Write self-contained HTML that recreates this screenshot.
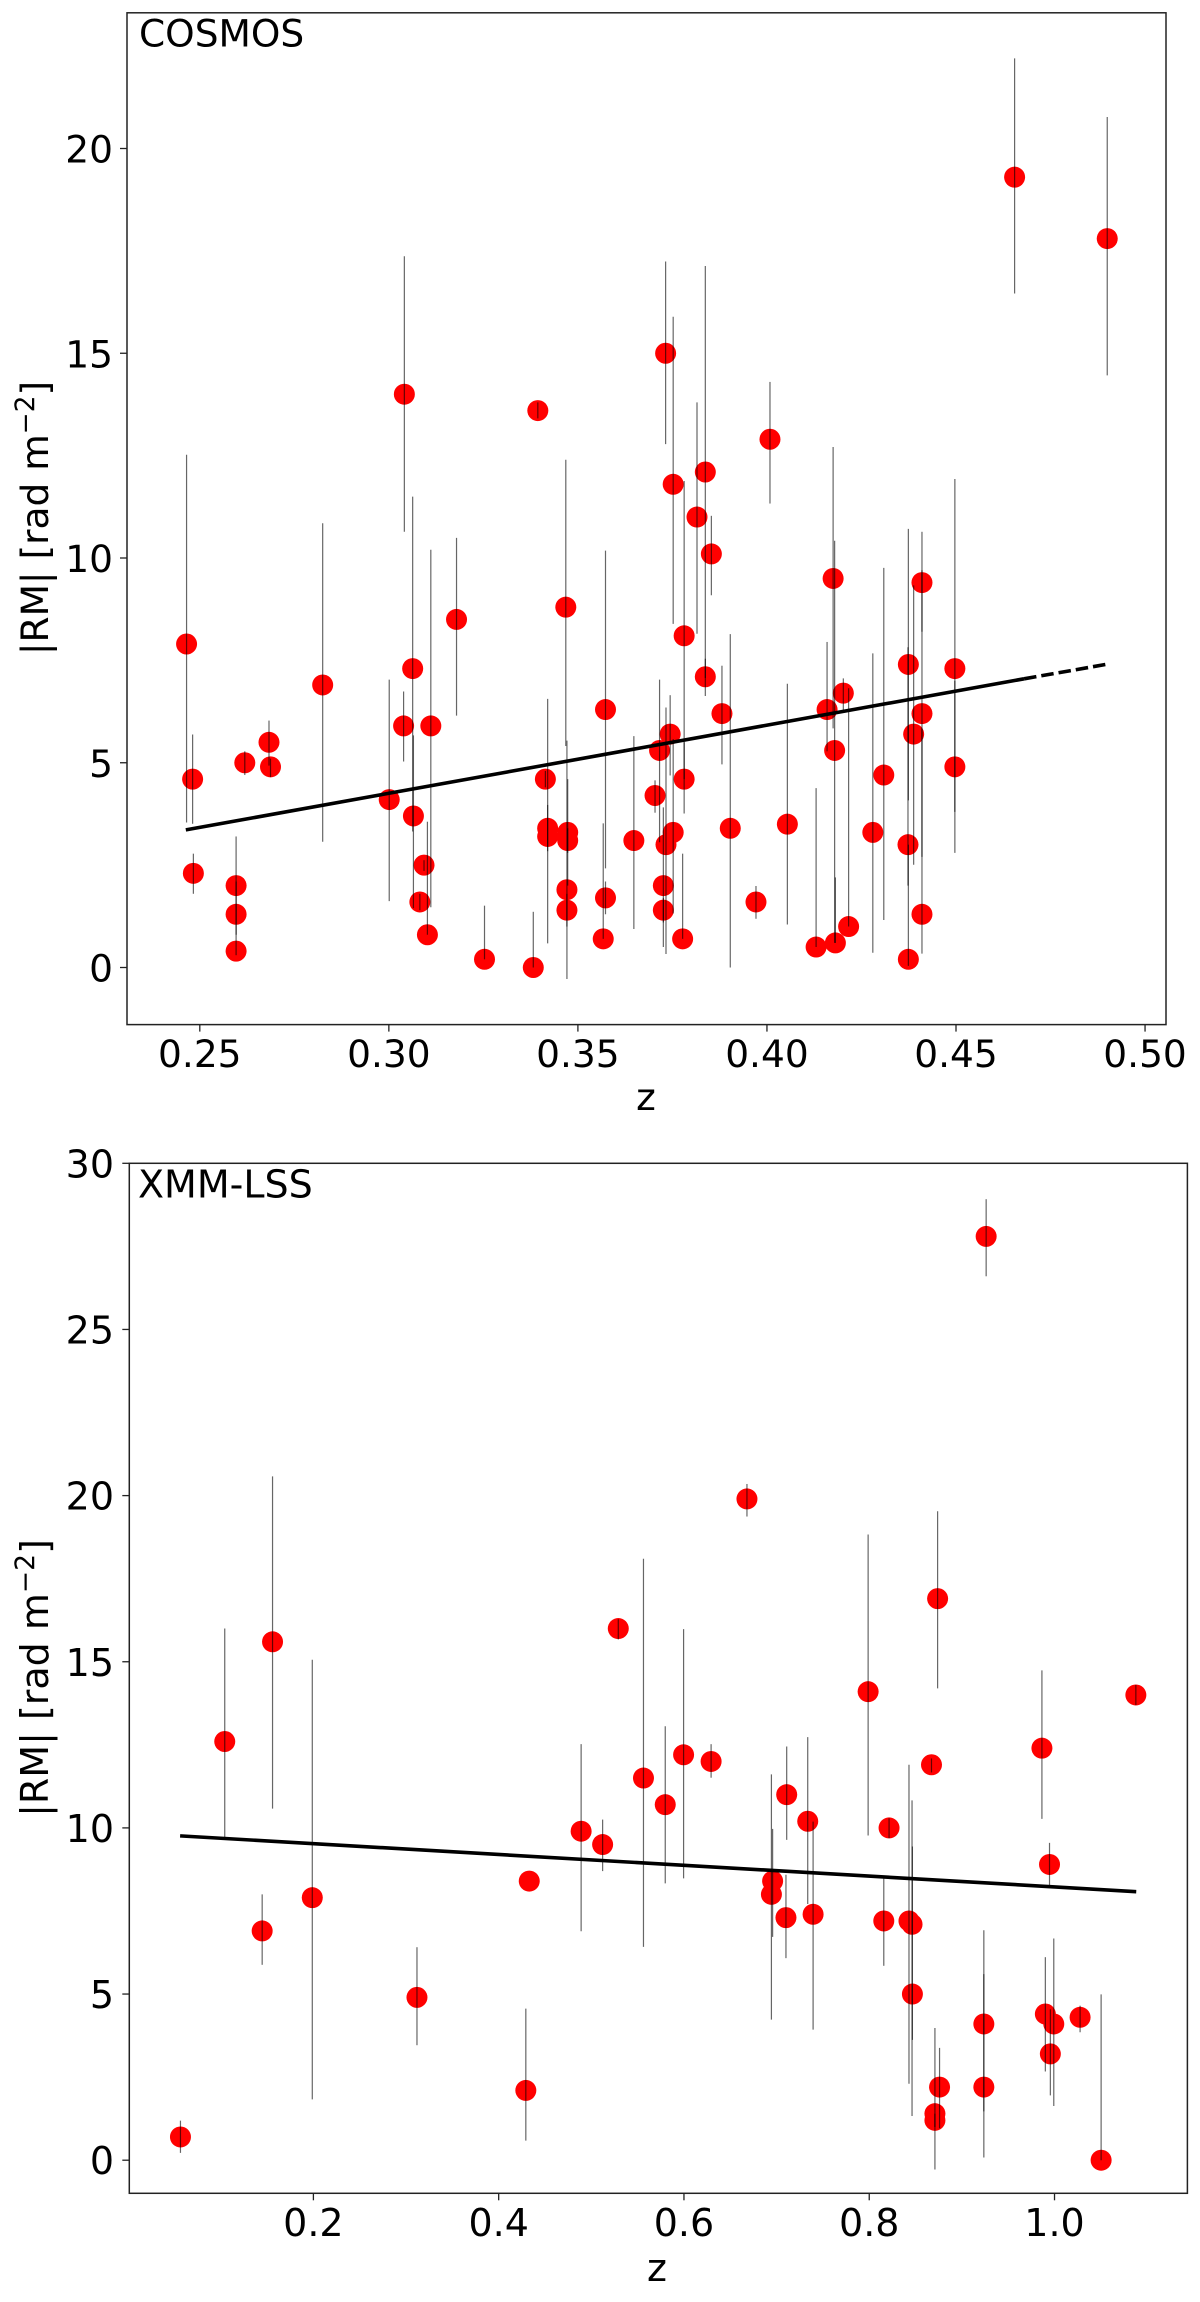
<!DOCTYPE html>
<html lang="en">
<head>
<meta charset="utf-8">
<title>|RM| versus z for COSMOS and XMM-LSS</title>
<style>
html,body{margin:0;padding:0;background:#fff;}
svg{display:block;}
text{font-family:"DejaVu Sans","Liberation Sans",sans-serif;fill:#000;}
</style>
</head>
<body>
<svg id="figure" xmlns="http://www.w3.org/2000/svg" width="1200" height="2302" viewBox="0 0 1200 2302">
  <rect x="0" y="0" width="1200" height="2302" fill="#fff"/>
  <g id="panel-a"></g>
  <g id="panel-b"></g>
</svg>
<script>
// COSMOS data
const cosmosZ = [
  .2465,.2481,.2483,.2596,.2596,.2596,.2619,.2683,.2687,.2825,
  .3001,.3039,.3041,.3063,.3065,.3082,.3093,.3111,.3102,.3179,
  .3253,.3382,.3394,.3414,.342,.342,.3468,.3473,.3473,.3471,
  .3471,.3573,.3573,.3567,.3648,.3704,.3716,.3726,.3726,.3733,
  .3744,.3752,.3781,.3781,.3777,.3732,.3752,.3837,.3837,.3815,
  .3853,.4008,.4655,.49,.3881,.3903,.3971,.4054,.413,.4159,
  .4175,.4179,.4181,.4202,.4216,.428,.4309,.4374,.4373,.4374,
  .4388,.441,.441,.441,.4497,.4497];
const cosmosRM = [
  7.9,4.6,2.3,2.0,1.3,.4,5.0,5.5,4.9,6.9,
  4.1,5.9,14,7.3,3.7,1.6,2.5,5.9,.8,8.5,
  .2,0,13.6,4.6,3.4,3.2,8.8,3.3,3.1,1.9,
  1.4,6.3,1.7,.7,3.1,4.2,5.3,2.0,1.4,3.0,
  5.7,3.3,8.1,4.6,.7,15,11.8,12.1,7.1,11,
  10.1,12.9,19.3,17.8,6.2,3.4,1.6,3.5,.5,6.3,
  9.5,5.3,.6,6.7,1,3.3,4.7,7.4,3,.2,
  5.7,9.4,6.2,1.3,7.3,4.9];
const cosmosLow = [
  3.54,3.51,1.8,.8,.5,.3,4.7,4.93,4.65,3.07,
  1.62,5.03,10.64,3.32,1.45,1.4,2.36,1.47,.8,6.15,
  .2,0,13.41,4.4,.59,2.84,5.41,2.0,2.8,-.28,
  1.0,2.42,1.3,.7,.94,3.78,3.06,.5,1.1,.33,
  4.69,1.32,4.6,3.76,.7,12.78,8.39,7.07,6.63,8.15,
  9.09,11.33,16.46,14.46,4.96,0,1.19,1.05,.5,5.28,
  5.84,.6,.6,6.28,1,.36,1.16,4.08,2.0,.04,
  2.51,8.2,2.7,.34,3.8,2.8];
const cosmosHigh = [
  12.52,5.69,2.78,3.2,2.1,.5,5.28,6.03,5.1,10.85,
  7.03,6.74,17.37,11.5,5.67,1.8,2.62,10.2,3.56,10.49,
  1.51,1.36,13.8,4.8,6.56,3.97,12.4,4.6,3.4,5.54,
  1.8,10.18,2.1,3.52,5.65,4.57,7.03,3.91,1.7,6.35,
  6.65,5.58,11.88,5.5,2.78,17.24,15.89,17.13,7.54,13.8,
  11.03,14.3,22.2,20.77,7.37,8.14,1.99,6.93,4.38,7.95,
  12.71,10.42,2.2,7.06,6.82,7.67,9.76,10.71,7.82,3.0,
  9.33,10.64,9.7,5.84,11.93,7.0];
const cosmosFitZ = [.2463,.468,.4902];
const cosmosFitRM = [3.36,7.05,7.41];
const cosmosXTicks = [0.25,0.30,0.35,0.40,0.45,0.50];
const cosmosXTickLabels = ["0.25","0.30","0.35","0.40","0.45","0.50"];
const cosmosYTicks = [0,5,10,15,20];
const cosmosYTickLabels = ["0","5","10","15","20"];

// XMM-LSS data
const xmmZ = [
  .0565,.1043,.1447,.1559,.1988,.3118,.4293,.433,.489,.5122,
  .5291,.5563,.5798,.5996,.6293,.668,.6944,.6957,.7101,.7109,
  .7336,.7394,.7988,.8157,.8214,.8429,.8462,.8466,.8672,.8738,
  .8709,.8709,.8759,.9237,.9237,.9262,.9864,.9901,.9946,.9955,
  .9992,1.0276,1.0503,1.0878];
const xmmRM = [
  .7,12.6,6.9,15.6,7.9,4.9,2.1,8.4,9.9,9.5,
  16,11.5,10.7,12.2,12,19.9,8,8.4,7.3,11,
  10.2,7.4,14.1,7.2,10,7.2,7.1,5,11.9,16.9,
  1.4,1.2,2.2,4.1,2.2,27.8,12.4,4.4,8.9,3.2,
  4.1,4.3,0,14];
const xmmLow = [
  .22,9.72,5.88,10.58,1.83,3.46,.59,8.4,6.89,8.7,
  15.67,6.42,8.33,8.48,11.51,19.37,4.23,6.72,6.08,9.64,
  7.71,3.93,9.77,5.85,9.69,2.3,1.33,3.62,11.67,14.2,
  -.28,1.0,.96,1.47,.08,26.6,10.27,2.67,8.23,1.95,
  1.63,3.85,0,13.7];
const xmmHigh = [
  1.19,16,8,20.58,15.06,6.41,4.56,8.4,12.52,10.25,
  16.28,18.1,13.06,15.98,12.52,20.35,11.61,9.97,8.59,12.45,
  12.73,10.19,18.83,8.48,10.29,11.9,10.83,9.44,12.09,19.53,
  3.98,1.4,3.38,6.92,5.6,28.92,14.74,6.11,9.55,4.54,
  6.67,4.65,4.99,14.3];
const xmmFitZ = [.0561,1.0882];
const xmmFitRM = [9.76,8.08];
const xmmXTicks = [0.2,0.4,0.6,0.8,1.0];
const xmmXTickLabels = ["0.2","0.4","0.6","0.8","1.0"];
const xmmYTicks = [0,5,10,15,20,25,30];
const xmmYTickLabels = ["0","5","10","15","20","25","30"];

const NS = "http://www.w3.org/2000/svg";

function makeEl(tag, attrs, parent) {
  const el = document.createElementNS(NS, tag);
  for (const k in attrs) el.setAttribute(k, attrs[k]);
  parent.appendChild(el);
  return el;
}

function makeScale(anchorValue, anchorPixel, pixelsPerUnit) {
  return function (v) { return anchorPixel + (v - anchorValue) * pixelsPerUnit; };
}

function drawPanel(g, p) {
  const xs = p.xScale, ys = p.yScale;

  // points
  p.z.forEach(function (z, i) {
    const c = makeEl("circle", {cx: xs(z), cy: ys(p.rm[i]), r: 10.5, fill: "#ff0000"}, g);
    
    
  });

  // error bars
  p.z.forEach(function (z, i) {
    if (p.low[i] === p.high[i]) return;
    const b = makeEl("line", {x1: xs(z), x2: xs(z), y1: ys(p.low[i]), y2: ys(p.high[i]),
      stroke: "#000", "stroke-width": 1.2, "stroke-opacity": 0.6}, g);
    
    
  });

  // fit line: first segment solid, optional second segment dashed
  const solid = makeEl("line", {x1: xs(p.fitZ[0]), y1: ys(p.fitRM[0]), x2: xs(p.fitZ[1]), y2: ys(p.fitRM[1]),
    stroke: "#000", "stroke-width": 3.6}, g);
  
  
  if (p.fitZ.length > 2) {
    const dash = makeEl("line", {x1: xs(p.fitZ[1]), y1: ys(p.fitRM[1]), x2: xs(p.fitZ[2]), y2: ys(p.fitRM[2]),
      stroke: "#000", "stroke-width": 3.6, "stroke-dasharray": "12.5 5"}, g);
    
    
  }

  // frame
  const frame = makeEl("rect", {x: p.left, y: p.top, width: p.right - p.left, height: p.bottom - p.top,
    fill: "none", stroke: "#222", "stroke-width": 1.5}, g);
  
  

  // x ticks
  p.xTicks.forEach(function (t, i) {
    const tick = makeEl("line", {x1: xs(t), x2: xs(t), y1: p.bottom, y2: p.bottom + 7, stroke: "#222", "stroke-width": 1.3}, g);
    
    
    const lab = makeEl("text", {x: xs(t), y: p.xLabelY, "text-anchor": "middle", "font-size": p.fs}, g);
    lab.textContent = p.xTickLabels[i];
    
    
  });

  // y ticks
  p.yTicks.forEach(function (t, i) {
    const tick = makeEl("line", {x1: p.left - 7, x2: p.left, y1: ys(t), y2: ys(t), stroke: "#222", "stroke-width": 1.3}, g);
    
    
    const lab = makeEl("text", {x: p.yLabelX, y: ys(t) + 14, "text-anchor": "end", "font-size": p.fs}, g);
    lab.textContent = p.yTickLabels[i];
    
    
  });

  // panel name
  const title = makeEl("text", {x: p.titleX, y: p.titleY, "font-size": p.fs}, g);
  title.textContent = p.title;
  
  

  // x axis title
  const xt = makeEl("text", {x: p.xTitleX, y: p.xTitleY, "text-anchor": "middle", "font-size": p.fs}, g);
  xt.textContent = "z";
  
  

  // y axis title
  const yt = makeEl("text", {x: 0, y: 0, "text-anchor": "middle", "font-size": p.fs,
    transform: "translate(48 " + p.yTitleY + ") rotate(-90)"}, g);
  
  
  yt.appendChild(document.createTextNode("|RM| [rad m"));
  const sup = makeEl("tspan", {dy: -14, "font-size": p.fs * 0.7}, yt);
  sup.textContent = "\u22122";
  const close = makeEl("tspan", {dy: 14}, yt);
  close.textContent = "]";
}

drawPanel(document.getElementById("panel-a"), {
  z: cosmosZ, rm: cosmosRM, low: cosmosLow, high: cosmosHigh,
  fitZ: cosmosFitZ, fitRM: cosmosFitRM,
  xTicks: cosmosXTicks, xTickLabels: cosmosXTickLabels,
  yTicks: cosmosYTicks, yTickLabels: cosmosYTickLabels,
  xScale: makeScale(0.25, 199.8, 3781),
  yScale: makeScale(0, 967.5, -40.95),
  left: 127, right: 1166, top: 12.8, bottom: 1024.6,
  fs: 37.5, xLabelY: 1067, yLabelX: 113,
  title: "COSMOS", titleX: 139, titleY: 46.5,
  xTitleX: 646, xTitleY: 1110, yTitleY: 518
});

drawPanel(document.getElementById("panel-b"), {
  z: xmmZ, rm: xmmRM, low: xmmLow, high: xmmHigh,
  fitZ: xmmFitZ, fitRM: xmmFitRM,
  xTicks: xmmXTicks, xTickLabels: xmmXTickLabels,
  yTicks: xmmYTicks, yTickLabels: xmmYTickLabels,
  xScale: makeScale(0.2, 313.4, 926.4),
  yScale: makeScale(0, 2160.2, -33.23),
  left: 129.3, right: 1187.4, top: 1163.3, bottom: 2193.3,
  fs: 38, xLabelY: 2236, yLabelX: 114,
  title: "XMM-LSS", titleX: 138, titleY: 1197.3,
  xTitleX: 657, xTitleY: 2281, yTitleY: 1678
});
</script>
</body>
</html>
